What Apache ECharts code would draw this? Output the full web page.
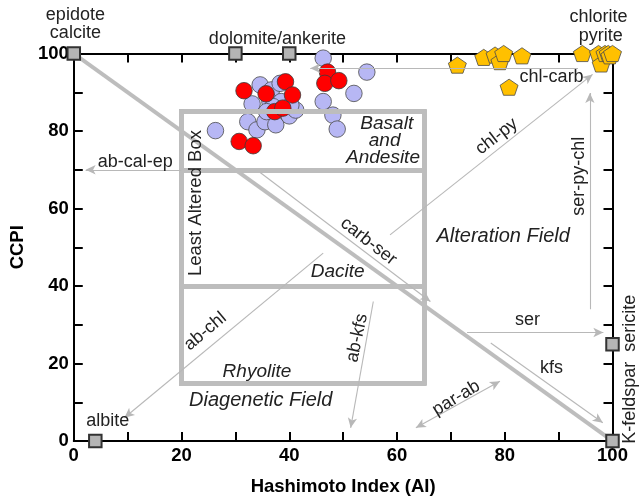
<!DOCTYPE html>
<html><head><meta charset="utf-8">
<script src="https://cdn.jsdelivr.net/npm/echarts@6/dist/echarts.min.js"></script>
<style>html,body{margin:0;padding:0;background:#fff}#c{width:642px;height:501px}</style>
</head><body><div id="c"></div>
<script>
// ---------- data ----------
const axisMin = 0, axisMax = 100, tickStep = 10, labelStep = 20;
const xTitle = 'Hashimoto Index (AI)';
const yTitle = 'CCPI';

const blueCircles = [
  [26.3,80.1],[46.3,98.8],[54.4,95.2],[52.0,89.7],[46.3,87.6],[48.1,84.1],[48.9,80.5],
  [34.6,91.9],[33.1,87.0],[36.7,90.6],[38.3,92.3],[36.4,87.6],[32.3,82.4],[34.0,80.3],
  [35.5,82.4],[37.5,81.6],[40.0,83.9],[41.2,85.4],[38.5,87.6],[37.0,86.3],[40.3,86.7],[35.8,85.0]
];
const redCircles = [
  [31.6,90.4],[35.7,89.6],[39.3,92.7],[40.6,89.3],[37.3,85.0],[38.8,85.9],
  [30.7,77.3],[33.3,76.2],[47.1,95.2],[46.6,92.3],[49.2,93.0]
];
const yellowPentagons = [
  [71.2,97.0],[76.1,99.0],[78.2,99.6],[79.1,97.9],[79.8,100],[83.2,99.4],[80.8,91.3],
  [94.4,100],[97.4,100],[97.9,97.3],[98.6,100],[99.2,100],[99.5,99.4],[100,100]
];
const mineralSquares = [[0,100],[30,100],[40,100],[4,0],[100,0],[100,25]];

// least altered box and the field divider
const boxSegments = [
  [[20,15],[65,15]], [[65,15],[65,85]], [[65,85],[20,85]], [[20,85],[20,15]],
  [[20,70],[65,70]], [[20,40],[65,40]]
];
const dividerSegment = [[0,100],[100,0]];

// alteration trend arrows: [from, to, double-headed?]
const trendArrows = [
  [[20,70],[2.2,70],false],          // ab-cal-ep
  [[93.6,96.2],[43.9,96.2],false],   // chl-carb line
  [[58.7,53.2],[96.3,94.6],false],   // chl-py
  [[95.8,34],[95.8,89.8],false],     // ser-py-chl
  [[73.0,28.0],[98.3,28.0],false],   // ser
  [[77.4,25.3],[98.2,4.7],false],    // kfs
  [[63.5,3.4],[79.1,15.4],true],     // par-ab
  [[34.6,69.3],[66.2,36.0],false],   // carb-ser
  [[46.3,48.5],[9.4,6.0],false],     // ab-chl
  [[55.6,36.0],[51.4,3.4],false]     // ab-kfs
];

// annotation texts and their data positions
const noteTexts = ['epidote','calcite','dolomite/ankerite','chlorite','pyrite','albite',
  'K-feldspar  sericite','ab-cal-ep','chl-carb','chl-py','ser-py-chl','Alteration Field','ser','kfs',
  'par-ab','carb-ser','Basalt','and','Andesite','Least Altered Box','Dacite','ab-chl','ab-kfs',
  'Rhyolite','Diagenetic Field'];
const notePositions = [[0.3,110],[0.3,105.2],[37.8,103.7],[97.4,109.4],[97.8,104.5],[6.3,5.1],
  [103.2,18.5],[11.4,72.1],[88.7,93.8],[78.5,78.6],[93.8,68.3],[79.7,52.8],[84.2,31.3],[88.7,18.9],
  [71.0,11.1],[54.7,51.5],[58.1,82.0],[57.7,77.5],[57.4,73.2],[22.6,61.4],[49.0,43.8],[24.4,28.3],[52.6,26.6],
  [34.0,18.0],[34.7,10.4]];

// ---------- styles ----------
const FONT = 'Liberation Sans, Arial, Helvetica, sans-serif';
const noteStyle = {
  'K-feldspar  sericite': {rotate: 90},
  'chl-py': {rotate: 37.6},
  'ser-py-chl': {rotate: 90},
  'par-ab': {rotate: 31},
  'carb-ser': {rotate: -38},
  'ab-chl': {rotate: 40},
  'ab-kfs': {rotate: 78},
  'Least Altered Box': {rotate: 90, size: 18.5},
  'Alteration Field': {italic: true, size: 20},
  'Diagenetic Field': {italic: true, size: 20},
  'Basalt': {italic: true, size: 19},
  'and': {italic: true, size: 19},
  'Andesite': {italic: true, size: 19},
  'Dacite': {italic: true, size: 19},
  'Rhyolite': {italic: true, size: 19}
};

function axisCommon(extra) {
  return Object.assign({
    type: 'value', min: axisMin, max: axisMax, interval: tickStep,
    axisLine: {show: true, onZero: false, lineStyle: {color: '#000', width: 2}},
    axisTick: {show: true, inside: true, length: 9, lineStyle: {color: '#000', width: 2}},
    splitLine: {show: false}
  }, extra);
}
const tickLabel = {
  fontFamily: FONT, fontWeight: 'bold', fontSize: 18.5, color: '#000', margin: 5,
  formatter: v => (v % labelStep === 0 ? String(v) : '')
};

const segData = (segs) => segs.map(s => [{coord: s[0]}, {coord: s[1]}]);

const arrowData = trendArrows.map(a => [
  {coord: a[0], symbol: a[2] ? 'arrow' : 'none'},
  {coord: a[1], symbol: 'arrow'}
]);

const notes = noteTexts.map((t, i) => {
  const st = noteStyle[t] || {};
  return {
    value: notePositions[i],
    label: {
      show: true, formatter: t, rotate: st.rotate || 0,
      fontStyle: st.italic ? 'italic' : 'normal',
      fontSize: st.size || 18
    }
  };
});

const pentagon = 'path://M0,-10L9.511,-3.09L5.878,8.09L-5.878,8.09L-9.511,-3.09Z';

const chart = echarts.init(document.getElementById('c'), null, {renderer: 'canvas'});
chart.setOption({
  animation: false,
  backgroundColor: '#fff',
  grid: {left: 58.3, right: 29.5, top: 53.5, bottom: 59.5, containLabel: false},
  xAxis: [
    axisCommon({position: 'bottom', axisLabel: tickLabel,
      name: xTitle, nameLocation: 'middle', nameGap: 36,
      nameTextStyle: {fontFamily: FONT, fontWeight: 'bold', fontSize: 18.5, color: '#000'}}),
    axisCommon({position: 'top', axisLabel: {show: false}})
  ],
  yAxis: [
    axisCommon({position: 'left', axisLabel: tickLabel,
      name: yTitle, nameLocation: 'middle', nameGap: 32,
      nameTextStyle: {fontFamily: FONT, fontWeight: 'bold', fontSize: 18.5, color: '#000'}}),
    axisCommon({position: 'right', axisLabel: {show: false}})
  ],
  series: [
    { // thick field lines
      type: 'scatter', data: [], z: 1, silent: true,
      markLine: {
        silent: true, symbol: 'none', animation: false,
        label: {show: false},
        lineStyle: {color: '#bdbdbd', width: 5, type: 'solid', cap: 'square'},
        emphasis: {disabled: true},
        data: segData(boxSegments).concat([[{coord: dividerSegment[0], lineStyle: {width: 4}}, {coord: dividerSegment[1]}]])
      }
    },
    { // thin arrows
      type: 'scatter', data: [], z: 2, silent: true,
      markLine: {
        silent: true, animation: false, symbolSize: [7, 10],
        label: {show: false},
        lineStyle: {color: '#b8b8b8', width: 1.1, type: 'solid'},
        itemStyle: {color: '#b8b8b8'},
        emphasis: {disabled: true},
        data: arrowData
      }
    },
    {
      type: 'scatter', name: 'blue', data: blueCircles, z: 3, symbol: 'circle', symbolSize: 16.5,
      itemStyle: {color: '#b7b7f4', borderColor: '#4a4a4a', borderWidth: 0.8, opacity: 1}
    },
    {
      type: 'scatter', name: 'red', data: redCircles, z: 4, symbol: 'circle', symbolSize: 16.5,
      itemStyle: {color: '#ff0000', borderColor: '#3a3a3a', borderWidth: 0.8, opacity: 1}
    },
    {
      type: 'scatter', name: 'yellow', data: yellowPentagons, z: 4, symbol: pentagon,
      symbolSize: [18, 17], symbolKeepAspect: true, clip: false,
      itemStyle: {color: '#ffc000', borderColor: '#4a4a4a', borderWidth: 0.8, opacity: 1}
    },
    {
      type: 'scatter', name: 'minerals', data: mineralSquares, z: 5, symbol: 'rect', symbolSize: 12.5,
      clip: false,
      itemStyle: {color: '#b5b5b5', borderColor: '#333', borderWidth: 2, opacity: 1}
    },
    {
      type: 'scatter', name: 'notes', data: notes, z: 6, symbolSize: 1, clip: false, silent: true,
      itemStyle: {color: 'rgba(0,0,0,0)', opacity: 0},
      label: {show: true, position: 'inside', align: 'center', verticalAlign: 'middle',
        fontFamily: FONT, color: '#222', opacity: 1}
    }
  ]
});
</script>
</body></html>
